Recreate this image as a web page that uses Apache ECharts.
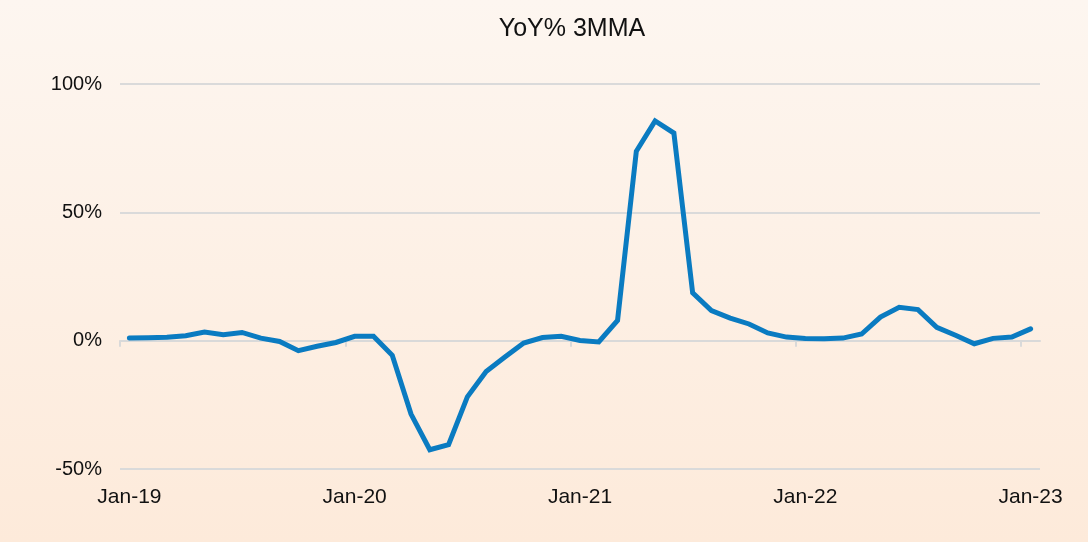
<!DOCTYPE html>
<html>
<head>
<meta charset="utf-8">
<script src="https://cdn.jsdelivr.net/npm/echarts@6/dist/echarts.min.js"></script>
<style>
html,body{margin:0;padding:0;}
#chart{width:1088px;height:542px;}
</style>
</head>
<body>
<div id="chart"></div>
<script>
const categories = [
  'Jan-19','Feb-19','Mar-19','Apr-19','May-19','Jun-19','Jul-19','Aug-19','Sep-19','Oct-19','Nov-19','Dec-19',
  'Jan-20','Feb-20','Mar-20','Apr-20','May-20','Jun-20','Jul-20','Aug-20','Sep-20','Oct-20','Nov-20','Dec-20',
  'Jan-21','Feb-21','Mar-21','Apr-21','May-21','Jun-21','Jul-21','Aug-21','Sep-21','Oct-21','Nov-21','Dec-21',
  'Jan-22','Feb-22','Mar-22','Apr-22','May-22','Jun-22','Jul-22','Aug-22','Sep-22','Oct-22','Nov-22','Dec-22',
  'Jan-23'
];
const yoy3mma = [
  1.0, 1.1, 1.3, 1.9, 3.4, 2.3, 3.2, 1.0, -0.3, -3.9, -2.2, -0.7,
  1.7, 1.7, -5.7, -28.6, -42.5, -40.5, -21.9, -12.0, -6.4, -0.9, 1.2, 1.7,
  0.1, -0.5, 7.9, 73.8, 85.6, 80.9, 18.6, 11.7, 8.8, 6.5, 3.0, 1.4,
  0.8, 0.7, 1.0, 2.6, 9.2, 13.0, 12.1, 5.2, 2.1, -1.2, 0.9, 1.4,
  4.6
];
// x tick marks sit on category boundaries, before each January (boundary index)
const yearTickBoundaries = [0, 12, 24, 36, 48];
const yTicks = { min: -50, max: 100, interval: 50 };
const titleText = 'YoY% 3MMA';

const chart = echarts.init(document.getElementById('chart'), null, {renderer: 'canvas'});
const font = 'Liberation Sans, Arial, sans-serif';
chart.setOption({
  backgroundColor: {
    type: 'linear', x: 0, y: 0, x2: 0, y2: 1,
    colorStops: [{offset: 0, color: '#FDF6F0'}, {offset: 1, color: '#FDEADA'}]
  },
  animation: false,
  title: {
    text: titleText,
    left: 567, top: 12,
    textAlign: 'center',
    textStyle: {fontFamily: font, fontSize: 25, fontWeight: 'normal', color: '#111'}
  },
  grid: {left: 120, right: 48, top: 84, bottom: 73, containLabel: false},
  xAxis: [{
    type: 'category',
    data: categories,
    position: 'bottom',
    boundaryGap: true,
    axisLine: {show: false, onZero: false},
    axisTick: {show: false},
    axisLabel: {show: false},
    splitLine: {show: false}
  }, {
    type: 'category',
    data: categories,
    position: 'bottom',
    boundaryGap: true,
    axisLine: {show: false, onZero: false},
    axisTick: {show: false},
    axisLabel: {show: true, interval: 11, margin: 18, fontFamily: font, fontSize: 21, color: '#111'},
    splitLine: {show: false}
  }, {
    type: 'value',
    position: 'bottom',
    min: 0, max: categories.length,
    axisLine: {show: true, onZero: true, lineStyle: {color: '#D9D9D9', width: 2}},
    axisTick: {show: true, customValues: yearTickBoundaries, length: 6, lineStyle: {color: '#D9D9D9', width: 2}},
    axisLabel: {show: false},
    splitLine: {show: false}
  }],
  yAxis: {
    type: 'value',
    min: yTicks.min, max: yTicks.max, interval: yTicks.interval,
    axisLine: {show: false},
    axisTick: {show: false},
    axisLabel: {formatter: '{value}%', margin: 18, fontFamily: font, fontSize: 20, color: '#111'},
    splitLine: {lineStyle: {color: '#DADADA', width: 2}}
  },
  series: [{
    type: 'line',
    xAxisIndex: 0,
    data: yoy3mma,
    symbol: 'none',
    lineStyle: {color: '#0A7BC1', width: 5, cap: 'round', join: 'miter'},
    itemStyle: {color: '#0A7BC1'}
  }]
});
</script>
</body>
</html>
